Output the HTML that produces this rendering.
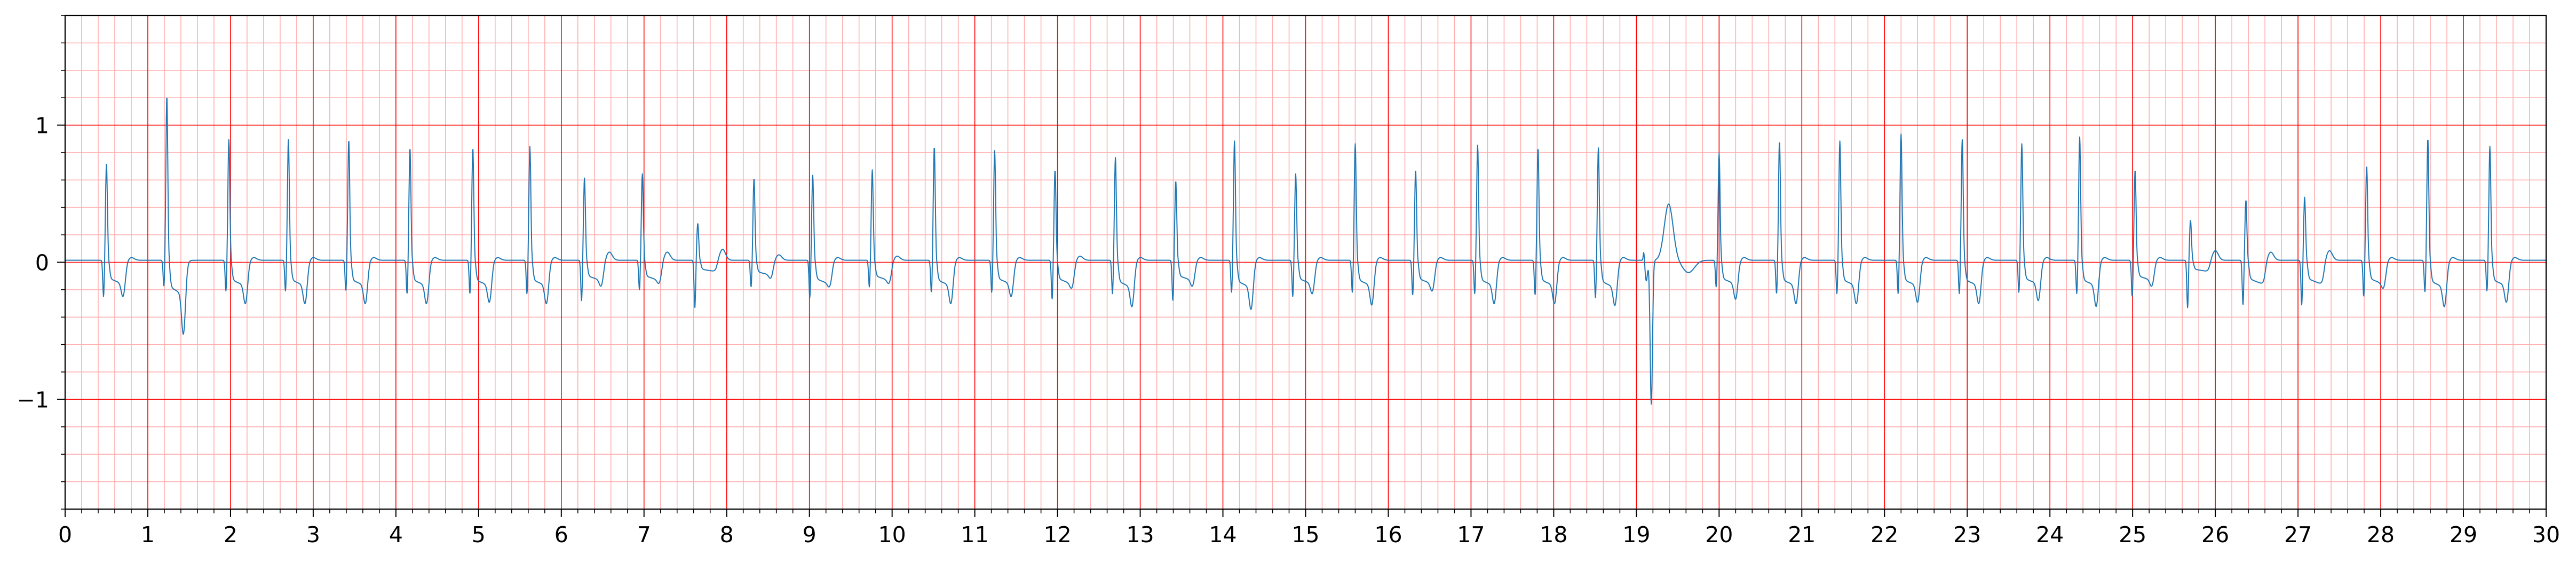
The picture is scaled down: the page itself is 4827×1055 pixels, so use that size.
<!DOCTYPE html>
<html><head><meta charset="utf-8">
<style>
html,body{margin:0;padding:0;background:#fff;}
svg{display:block;}
text{font-family:"DejaVu Sans","Liberation Sans",sans-serif;font-size:41px;fill:#000;}
</style></head>
<body>
<svg id="chart" width="4827" height="1055" viewBox="0 0 4827 1055" xmlns="http://www.w3.org/2000/svg">
<g id="grid"></g>
<g id="series"></g>
<g id="axes"></g>
</svg>
<script>
// ---- data ----
const beatTimes = [0.50,1.23,1.98,2.70,3.43,4.17,4.93,5.62,6.28,6.98,7.65,8.33,9.04,9.76,10.51,11.24,11.97,12.70,13.43,14.14,14.88,15.60,16.33,17.08,17.81,18.54,20.00,20.73,21.46,22.20,22.94,23.66,24.36,25.03,25.70,26.37,27.08,27.83,28.57,29.32];
const rAmps    = [0.70,1.20,0.88,0.88,0.88,0.82,0.82,0.83,0.60,0.63,0.27,0.60,0.62,0.66,0.83,0.80,0.66,0.75,0.58,0.87,0.63,0.85,0.66,0.84,0.82,0.82,0.78,0.87,0.87,0.92,0.88,0.85,0.90,0.66,0.29,0.44,0.46,0.69,0.89,0.83];
const qAmps    = [-0.27,-0.20,-0.23,-0.23,-0.23,-0.25,-0.25,-0.25,-0.30,-0.22,-0.35,-0.20,-0.28,-0.20,-0.24,-0.24,-0.29,-0.25,-0.30,-0.24,-0.27,-0.24,-0.26,-0.25,-0.26,-0.28,-0.20,-0.25,-0.25,-0.25,-0.25,-0.24,-0.25,-0.27,-0.35,-0.33,-0.33,-0.27,-0.24,-0.23];
const stLevels = [-0.12,-0.18,-0.13,-0.13,-0.13,-0.13,-0.13,-0.13,-0.10,-0.10,-0.05,-0.07,-0.12,-0.10,-0.13,-0.12,-0.12,-0.14,-0.10,-0.14,-0.12,-0.13,-0.12,-0.13,-0.13,-0.14,-0.12,-0.13,-0.13,-0.13,-0.13,-0.12,-0.13,-0.10,-0.05,-0.12,-0.12,-0.12,-0.14,-0.13];
const tTroughs = [-0.10,-0.30,-0.14,-0.14,-0.14,-0.14,-0.13,-0.14,-0.05,-0.03,0.00,-0.03,-0.03,-0.03,-0.14,-0.10,-0.04,-0.15,-0.05,-0.17,-0.08,-0.15,-0.06,-0.14,-0.14,-0.14,-0.12,-0.14,-0.14,-0.13,-0.14,-0.13,-0.16,-0.05,0.00,0.00,0.00,-0.04,-0.15,-0.13];
const tPeaks   = [0.02,0.00,0.02,0.02,0.02,0.02,0.02,0.02,0.06,0.06,0.08,0.04,0.02,0.03,0.02,0.02,0.03,0.02,0.02,0.02,0.02,0.02,0.02,0.02,0.02,0.02,0.02,0.02,0.02,0.02,0.02,0.02,0.02,0.02,0.07,0.06,0.07,0.02,0.02,0.02];
const pvcTimes = [19.18];
const pvcDepths = [-1.05];
const pvcHumps = [0.41];
const xTickLabels = ["0","1","2","3","4","5","6","7","8","9","10","11","12","13","14","15","16","17","18","19","20","21","22","23","24","25","26","27","28","29","30"];
const yTickValues = [-1,0,1];
const yTickLabels = ["\u22121","0","1"];

// ---- axes ----
const L=122,R=4771,T=29,B=954, XMIN=0,XMAX=30,YMIN=-1.8,YMAX=1.8;
const sx=v=>L+(v-XMIN)/(XMAX-XMIN)*(R-L);
const sy=v=>B-(v-YMIN)/(YMAX-YMIN)*(B-T);
const NS="http://www.w3.org/2000/svg";
function mk(tag,attrs,parent){const e=document.createElementNS(NS,tag);for(const k in attrs)e.setAttribute(k,attrs[k]);parent.appendChild(e);return e;}

const grid=document.getElementById('grid');
for(let i=0;i<=150;i++){const v=i*0.2;if(i%5===0)continue;
  const l=mk('line',{x1:sx(v),x2:sx(v),y1:T,y2:B,stroke:'#ffb0b0','stroke-width':1.6},grid);
  
  }
for(let i=-9;i<=9;i++){if(i%5===0)continue;const v=i*0.2;
  const l=mk('line',{x1:L,x2:R,y1:sy(v),y2:sy(v),stroke:'#ffb0b0','stroke-width':1.6},grid);
  
  }
for(let i=1;i<30;i++){
  const l=mk('line',{x1:sx(i),x2:sx(i),y1:T,y2:B,stroke:'#ff0000','stroke-width':1.6},grid);
  
  }
yTickValues.forEach(v=>{
  const l=mk('line',{x1:L,x2:R,y1:sy(v),y2:sy(v),stroke:'#ff0000','stroke-width':1.6},grid);
  
  });

// ---- signal ----
function g(x,c,s){const z=(x-c)/s;return Math.exp(-z*z);}
function sig(x){return 1/(1+Math.exp(-x));}
function val(t){
  let y=0.015;
  for(let i=0;i<beatTimes.length;i++){
    const d=t-beatTimes[i];
    if(d<-0.2||d>0.6)continue;
    y+=qAmps[i]*g(d,-0.035,0.013);
    y+=rAmps[i]*g(d,0.0,0.016);
    const w=sig((d-0.04)/0.007)*sig(-(d-0.235)/0.012);
    y+=w*(stLevels[i]-0.015+(stLevels[i]*0.4)*(d-0.04)/0.2);
    y+=tTroughs[i]*g(d,0.20,0.03);
    y+=tPeaks[i]*g(d,0.30,0.05);
  }
  for(let i=0;i<pvcTimes.length;i++){
    const d=t-pvcTimes[i];
    if(d<-0.3||d>0.8)continue;
    y+=0.07*g(d,-0.09,0.01)-0.15*g(d,-0.06,0.02);
    y+=pvcDepths[i]*g(d,0,0.02);
    y+=pvcHumps[i]*g(d,0.21,0.075);
    y+=-0.09*g(d,0.45,0.1);
  }
  return y;
}
const series=document.getElementById('series');
let dstr='';
for(let k=0;k<=7500;k++){const t=k*0.004;dstr+=(k?'L':'M')+sx(t).toFixed(1)+','+sy(val(t)).toFixed(1);}
const path=mk('path',{d:dstr,fill:'none',stroke:'#1f77b4','stroke-width':2,'stroke-linejoin':'round'},series);



// ---- axes frame & ticks ----
const axes=document.getElementById('axes');
const fr=mk('rect',{x:L,y:T,width:R-L,height:B-T,fill:'none',stroke:'#000','stroke-width':2.2},axes);


for(let i=0;i<=150;i++){const v=i*0.2;const maj=i%5===0;
  const tk=mk('line',{x1:sx(v),x2:sx(v),y1:B,y2:B+(maj?15:8),stroke:'#000','stroke-width':maj?2:1.6},axes);
  
  }
xTickLabels.forEach((s,i)=>{
  const tx=mk('text',{x:sx(i),y:1016,'text-anchor':'middle'},axes);tx.textContent=s;
  
  });
for(let i=-9;i<=9;i++){const v=i*0.2;const maj=i%5===0;
  const tk=mk('line',{x1:L-(maj?15:8),x2:L,y1:sy(v),y2:sy(v),stroke:'#000','stroke-width':maj?2:1.6},axes);
  
  }
yTickValues.forEach((v,i)=>{
  const tx=mk('text',{x:92,y:sy(v)+15,'text-anchor':'end'},axes);tx.textContent=yTickLabels[i];
  
  });
</script>
</body></html>
